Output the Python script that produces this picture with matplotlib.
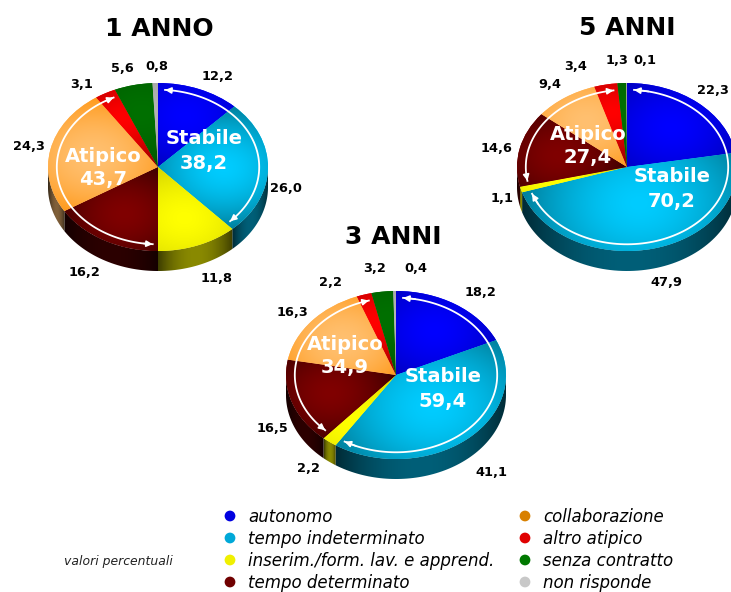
import numpy as np
import matplotlib
matplotlib.use('Agg')
import matplotlib.pyplot as plt
from matplotlib.patches import Polygon

W, H = 731, 592

categories = ['autonomo', 'tempo indeterminato', 'inserim./form. lav. e apprend.', 'tempo determinato',
              'collaborazione', 'altro atipico', 'senza contratto', 'non risponde']
anno1 = [12.2, 26.0, 11.8, 16.2, 24.3, 3.1, 5.6, 0.8]
anno3 = [18.2, 41.1, 2.2, 16.5, 16.3, 2.2, 3.2, 0.4]
anno5 = [22.3, 47.9, 1.1, 14.6, 9.4, 3.4, 1.3, 0.1]
stabile = {'1 ANNO': 38.2, '3 ANNI': 59.4, '5 ANNI': 70.2}
atipico = {'1 ANNO': 43.7, '3 ANNI': 34.9, '5 ANNI': 27.4}

# wedge colours: middle of the slice, rim of the slice, top of the outer wall
bright = ['#0000ff', '#00ccff', '#ffff00', '#800000', '#ffc070', '#ff0000', '#007000', '#b4b4b4']
dark = ['#0000c0', '#007f9c', '#d4d400', '#3c0000', '#ff9a1c', '#800000', '#005500', '#909090']
wall = ['#000090', '#005f78', '#8a8a00', '#2c0000', '#80603a', '#700000', '#003800', '#707070']
dots = ['#0000e0', '#00a8d8', '#f0f000', '#700000', '#d88000', '#e00000', '#007800', '#c8c8c8']

RX, RY, DEPTH = 110, 84, 20

def rgb(c):
    return np.array(matplotlib.colors.to_rgb(c))

def slice_image(ax, wedge, i):
    # radial shading around the centroid of the sector, clipped to the wedge
    half = np.radians(wedge.theta2 - wedge.theta1) / 2
    mid = np.radians(wedge.theta1 + wedge.theta2) / 2
    rc = 2 / 3 * np.sin(half) / max(half, 1e-3)
    cx, cy = rc * np.cos(mid), rc * np.sin(mid)
    xs, ys = np.meshgrid(np.linspace(-1.02, 1.02, 300), np.linspace(1.02, -1.02, 300))
    far = max(rc, 1 - rc)
    for a in (wedge.theta1, wedge.theta2):
        far = max(far, np.hypot(np.cos(np.radians(a)) - cx, np.sin(np.radians(a)) - cy))
    t = np.clip(np.hypot(xs - cx, ys - cy) / far, 0, 1)[..., None] ** 1.7
    img = rgb(bright[i]) * (1 - t) + rgb(dark[i]) * t
    im = ax.imshow(img, extent=(-1.02, 1.02, -1.02, 1.02), aspect='auto', zorder=3, interpolation='bilinear')
    im.set_clip_path(wedge)

def wall_image(ax, t1, t2, i, d):
    # outer wall of a slice, only the part facing the viewer
    a = max(t1, 180)
    b = min(t2, 360)
    if b <= a:
        return
    th = np.radians(np.linspace(a, b, 80))
    top = np.c_[np.cos(th), np.sin(th)]
    low = np.c_[np.cos(th[::-1]), np.sin(th[::-1]) - d]
    poly = Polygon(np.r_[top, low], closed=True, fc='none', ec='none', transform=ax.transData)
    ax.add_patch(poly)
    x0, x1 = np.cos(th).min(), np.cos(th).max()
    xs, ys = np.meshgrid(np.linspace(-1.02, 1.02, 300), np.linspace(1.02, -1.02 - d, 300))
    u = np.clip(np.abs(xs - (x0 + x1) / 2) / max((x1 - x0) / 2, 0.02), 0, 1)
    v = np.clip((np.sqrt(np.clip(1 - xs ** 2, 0, 1)) * -1 - ys) / d, -1, 1) * -1
    v = np.clip(v, 0, 1)
    shade = (1 - 0.55 * u ** 2) * (1 - 0.8 * v)
    img = rgb(wall[i]) * shade[..., None]
    im = ax.imshow(img, extent=(-1.02, 1.02, -1.02 - d, 1.02), aspect='auto', zorder=2, interpolation='bilinear')
    im.set_clip_path(poly)

def arc_arrow(ax, a, b):
    # double headed white arc from clockwise angle a to b (degrees from the top)
    ang = np.radians(np.linspace(a, b, 120))
    x, y = 0.92 * np.sin(ang), 0.92 * np.cos(ang)
    ax.plot(x, y, color='white', lw=1.3, zorder=5)
    for (x0, y0), (x1, y1) in [((x[4], y[4]), (x[0], y[0])), ((x[-5], y[-5]), (x[-1], y[-1]))]:
        ax.annotate('', xy=(x1, y1), xytext=(x0, y0), zorder=6,
                    arrowprops=dict(arrowstyle='-|>', color='white', lw=1.2, mutation_scale=9, shrinkA=0, shrinkB=0))

def draw_pie(fig, values, cx, cy):
    d = DEPTH / RY
    ax = fig.add_axes([(cx - RX * 1.02) / W, 1 - (cy + RY * 1.02 + DEPTH) / H, 2.04 * RX / W, (2.04 * RY + DEPTH) / H])
    wedges, _ = ax.pie(values, startangle=90, counterclock=False, colors=bright, radius=1,
                       wedgeprops=dict(linewidth=0))
    ax.set_aspect('auto')
    ax.set_autoscale_on(False)
    ax.set_xlim(-1.02, 1.02)
    ax.set_ylim(-1.02 - d, 1.02)
    ax.axis('off')
    for i, w in enumerate(wedges):
        slice_image(ax, w, i)
        for shift in (0, -360):
            wall_image(ax, w.theta1 + shift, w.theta2 + shift, i, d)
            wall_image(ax, w.theta1 - shift, w.theta2 - shift, i, d)
    st = sum(values[:2]) * 3.6
    at = sum(values[:6]) * 3.6
    arc_arrow(ax, 4, st - 3)
    arc_arrow(ax, st + sum(values[2:3]) * 3.6 + 3, at - 3)
    return ax

fig = plt.figure(figsize=(W / 100, H / 100), dpi=100)
draw_pie(fig, anno1, 158, 167)
draw_pie(fig, anno5, 627, 167)
draw_pie(fig, anno3, 396, 375)

# overlay in pixel units for titles, value labels and the legend
top = fig.add_axes([0, 0, 1, 1], facecolor='none')
top.set_xlim(0, W)
top.set_ylim(H, 0)
top.axis('off')

def fmt(v):
    return f'{v:.1f}'.replace('.', ',')

pos1 = [(218, 76), (286, 189), (216, 279), (85, 272), (29, 147), (82, 84), (122, 69), (157, 67)]
pos3 = [(480, 293), (491, 473), (308, 469), (272, 428), (292, 313), (331, 282), (375, 268), (416, 268)]
pos5 = [(713, 90), (666, 282), (502, 198), (497, 148), (550, 85), (576, 66), (617, 61), (645, 61)]

for values, pos in [(anno1, pos1), (anno3, pos3), (anno5, pos5)]:
    for v, (x, y) in zip(values, pos):
        top.text(x, y, fmt(v), ha='center', va='center', fontsize=9.3, fontweight='bold', color='black')

titles = [('1 ANNO', 159, 29, (204, 139), (103, 156)),
          ('3 ANNI', 393, 237, (443, 377), (345, 344)),
          ('5 ANNI', 627, 28, (672, 177), (588, 134))]
for name, x, y, st, at in titles:
    top.text(x, y, name, ha='center', va='center', fontsize=18, fontweight='bold', color='black')
    top.text(st[0], st[1], 'Stabile', ha='center', va='center', fontsize=14, fontweight='bold', color='white')
    top.text(st[0], st[1] + 24, fmt(stabile[name]), ha='center', va='center', fontsize=14, fontweight='bold', color='white')
    top.text(at[0], at[1], 'Atipico', ha='center', va='center', fontsize=14, fontweight='bold', color='white')
    top.text(at[0], at[1] + 24, fmt(atipico[name]), ha='center', va='center', fontsize=14, fontweight='bold', color='white')

# legend, two columns of four
rows = [517, 539, 561, 583]
for i, name in enumerate(categories):
    mx = 230 if i < 4 else 525
    tx = 248 if i < 4 else 543
    y = rows[i % 4]
    top.scatter([mx], [y - 1], s=60, color=dots[i], edgecolors='none', zorder=4)
    top.scatter([mx], [y - 2], s=18, color=dots[i], edgecolors='white', linewidths=0, alpha=0.5, zorder=5)
    top.text(tx, y, name, ha='left', va='center', fontsize=12, fontstyle='italic', color='black')

top.text(64, 561, 'valori percentuali', ha='left', va='center', fontsize=8.9, fontstyle='italic', color='#222222')

fig.savefig('out.png', dpi=100)
